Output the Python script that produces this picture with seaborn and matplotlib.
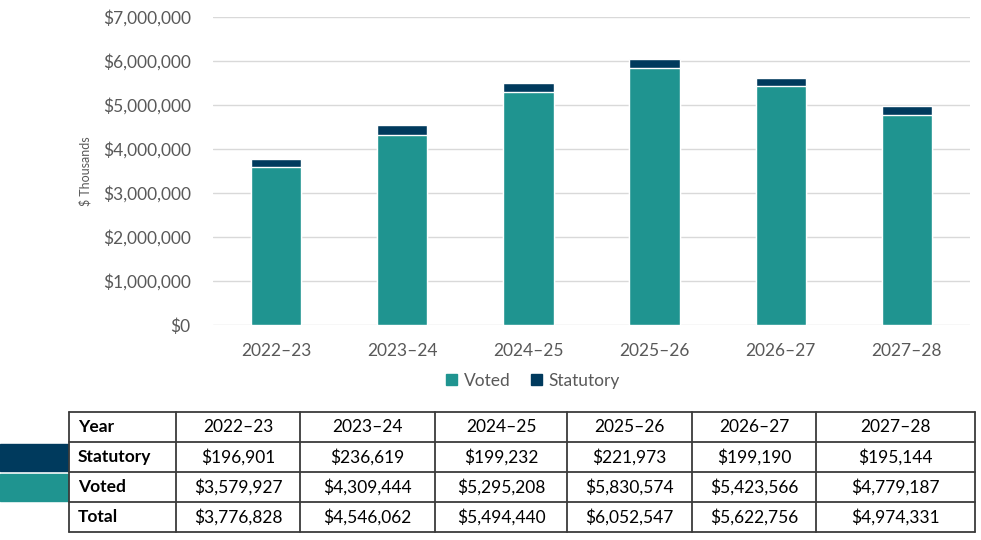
import matplotlib
matplotlib.use('Agg')
import matplotlib.pyplot as plt
import seaborn as sns
from matplotlib.patches import Patch, Rectangle
from matplotlib.ticker import FuncFormatter

# Data
years = ['2022–23', '2023–24', '2024–25', '2025–26', '2026–27', '2027–28']
statutory = [196901, 236619, 199232, 221973, 199190, 195144]
voted = [3579927, 4309444, 5295208, 5830574, 5423566, 4779187]
total = [3776828, 4546062, 5494440, 6052547, 5622756, 4974331]

teal = '#1F9490'
navy = '#003A5D'
grey = '#595959'

sns.set_style('white')
plt.rcParams['font.family'] = ['Lato', 'DejaVu Sans']

fig = plt.figure(figsize=(9.81, 5.4), dpi=100)
ax = fig.add_axes([213 / 981, 1 - 325 / 540, 757 / 981, 308 / 540])

# Stacked bars: total (statutory on top) then voted over it
sns.barplot(x=years, y=total, color=navy, saturation=1, width=0.4,
            edgecolor='white', linewidth=1, ax=ax, zorder=3)
sns.barplot(x=years, y=voted, color=teal, saturation=1, width=0.4,
            edgecolor='white', linewidth=1, ax=ax, zorder=4)

ax.set_ylim(0, 7000000)
ax.set_yticks(range(0, 7000001, 1000000))
ax.yaxis.set_major_formatter(FuncFormatter(lambda v, p: f'${v:,.0f}'))
ax.grid(axis='y', color='#D9D9D9', linewidth=1, zorder=0)
ax.set_axisbelow(True)
for s in ax.spines.values():
    s.set_visible(False)
ax.tick_params(axis='both', length=0, labelsize=12.5, labelcolor=grey)
ax.tick_params(axis='y', pad=16)
ax.tick_params(axis='x', pad=13)
ax.set_xlabel('')
ax.set_ylabel('$ Thousands', fontsize=9, color=grey)
ax.yaxis.set_label_coords((92 - 213) / 757, 0.5)

handles = [Patch(color=teal, label='Voted'), Patch(color=navy, label='Statutory')]
fig.legend(handles=handles, loc='center', bbox_to_anchor=(533 / 981, 1 - 381 / 540),
           ncol=2, frameon=False, fontsize=12.5, labelcolor=grey,
           handlelength=0.6, handleheight=0.6, handletextpad=0.4, columnspacing=1.2)

# Table below the chart
tab = fig.add_axes([0, 0, 1, 1], zorder=-1)
tab.set_xlim(0, 981)
tab.set_ylim(540, 0)
tab.axis('off')

col_edges = [69, 176, 300, 435, 567, 692, 816, 975]
row_edges = [412, 442, 472, 502, 532]
rows = [
    ['Year'] + years,
    ['Statutory'] + [f'${v:,}' for v in statutory],
    ['Voted'] + [f'${v:,}' for v in voted],
    ['Total'] + [f'${v:,}' for v in total],
]

tab.add_patch(Rectangle((0, 444), 68, 27, color=navy))
tab.add_patch(Rectangle((0, 474), 68, 27, color=teal))

for x in col_edges:
    tab.plot([x, x], [row_edges[0], row_edges[-1]], color='#3A3A3A', lw=1.3)
for y in row_edges:
    tab.plot([col_edges[0], col_edges[-1]], [y, y], color='#3A3A3A', lw=1.3)

for r, row in enumerate(rows):
    yc = (row_edges[r] + row_edges[r + 1]) / 2
    for c, txt in enumerate(row):
        if c == 0:
            tab.text(col_edges[0] + 9, yc, txt, ha='left', va='center',
                     fontsize=12.5, fontweight='bold', color='black')
        else:
            xc = (col_edges[c] + col_edges[c + 1]) / 2
            tab.text(xc, yc, txt, ha='center', va='center', fontsize=12.5, color='black')

plt.savefig('out.png', dpi=100)
plt.close()
